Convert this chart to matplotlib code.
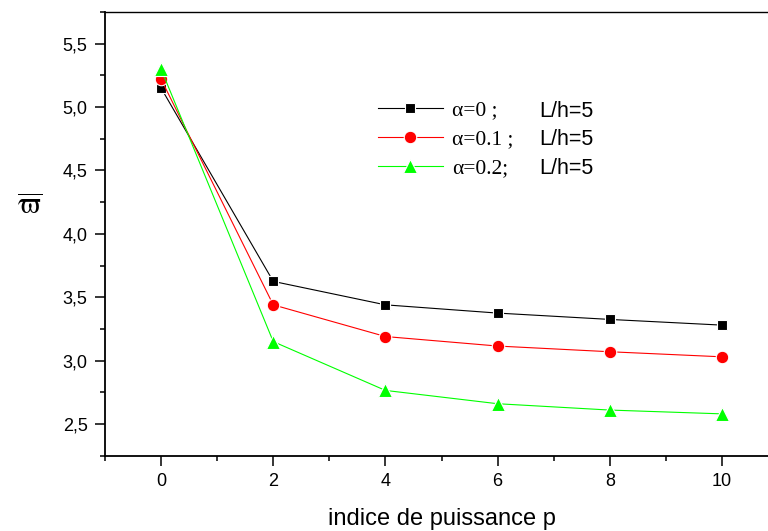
import matplotlib
matplotlib.use('Agg')
import matplotlib.pyplot as plt
from matplotlib.ticker import MultipleLocator, FuncFormatter

plt.rcParams['font.family'] = 'Liberation Sans'
plt.rcParams['mathtext.fontset'] = 'stix'

p = [0, 2, 4, 6, 8, 10]
w_a0 = [5.15, 3.625, 3.44, 3.375, 3.325, 3.28]
w_a01 = [5.22, 3.44, 3.19, 3.115, 3.07, 3.03]
w_a02 = [5.30, 3.15, 2.765, 2.66, 2.61, 2.58]
labels = ['\u03b1=0 ;', '\u03b1=0.1 ;', '\u03b1=0.2;']
lh_text = 'L/h=5'

W, H = 768, 531
fig = plt.figure(figsize=(W / 100, H / 100), dpi=100)
ax = fig.add_axes([105 / W, (H - 455.7) / H, 673 / W, (455.7 - 12) / H])

lines = []
lines += ax.plot(p, w_a0, color='black', lw=0.8, marker='s', ms=7.5, mec='white', mew=0.8, mfc='black')
lines += ax.plot(p, w_a01, color='red', lw=0.8, marker='o', ms=9, mec='white', mew=0.8, mfc='red')
lines += ax.plot(p, w_a02, color='#00ff00', lw=0.8, marker='^', ms=10.5, mec='white', mew=0.8, mfc='#00ff00')

ax.set_xlim(-1, 11)
ax.set_ylim(2.25, 5.75)
ax.xaxis.set_major_locator(MultipleLocator(2))
ax.xaxis.set_minor_locator(MultipleLocator(1))
ax.yaxis.set_major_locator(MultipleLocator(0.5))
ax.yaxis.set_minor_locator(MultipleLocator(0.25))
ax.yaxis.set_major_formatter(FuncFormatter(lambda v, pos: ('%.1f' % v).replace('.', ',')))
ax.tick_params(which='major', direction='out', length=7, width=1.1, labelsize=13, pad=5.5)
ax.tick_params(which='minor', direction='out', length=3.6, width=1.1)
ax.tick_params(top=False, right=False, which='both')
ax.spines['right'].set_visible(False)
for s in ['left', 'bottom']:
    ax.spines[s].set_linewidth(1.3)
ax.spines['top'].set_linewidth(1.0)

ax.set_xlabel('indice de puissance p', fontsize=17, labelpad=13)
fig.text(30 / W, 1 - 207 / H, r'$\overline{\mathrm{\varpi}}$', fontsize=22, ha='center', va='center',
         math_fontfamily='stix')

leg = ax.legend(lines, labels, loc='center left', bbox_to_anchor=(378 / W, 1 - 139.5 / H),
                bbox_transform=fig.transFigure, frameon=False, borderpad=0, borderaxespad=0,
                handlelength=3.0, handletextpad=0.45, labelspacing=0.42,
                prop={'family': 'Liberation Serif', 'size': 15.5})
for ypx in [111.5, 139.5, 168.5]:
    fig.text(539 / W, 1 - ypx / H, lh_text, fontsize=15.5, ha='left', va='center')

fig.savefig('out.png', dpi=100)
